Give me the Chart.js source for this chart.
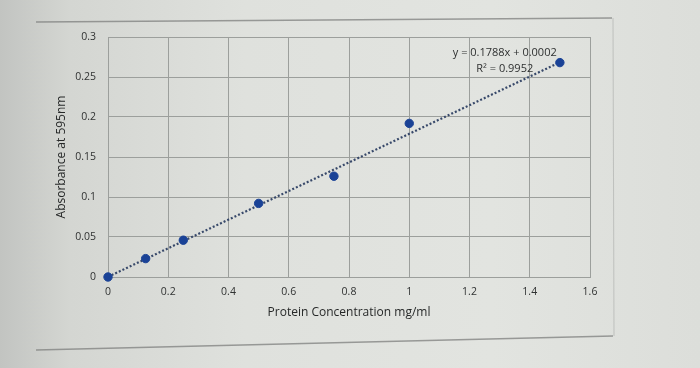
<!DOCTYPE html>
<html>
<head>
<meta charset="utf-8">
<script src="https://cdn.jsdelivr.net/npm/chart.js@4.4.1/dist/chart.umd.min.js"></script>
<style>
  html, body { margin: 0; padding: 0; }
  body {
    width: 700px; height: 368px; overflow: hidden;
    background: linear-gradient(90deg, #c2c4c1 0%, #d4d6d2 10%, #dfe1dd 35%, #e2e4e0 70%, #dcdeda 100%);
  }
  #wrap { position: relative; width: 700px; height: 368px; }
</style>
</head>
<body>
<div id="wrap"><canvas id="c" width="700" height="368"></canvas></div>
<script>
// Data
const concentrations = [0, 0.125, 0.25, 0.5, 0.75, 1.0, 1.5];
const absorbances   = [0, 0.023, 0.046, 0.092, 0.126, 0.192, 0.268];
// Linear trendline (from the equation shown in the chart)
const trendX = [0, 1.5];
const trendY = [0.0002, 0.2684];
const equationLines = ['y = 0.1788x + 0.0002', 'R² = 0.9952'];
const xTicks = [0, 0.2, 0.4, 0.6, 0.8, 1, 1.2, 1.4, 1.6];
const yTicks = [0, 0.05, 0.1, 0.15, 0.2, 0.25, 0.3];
const xTitle = 'Protein Concentration mg/ml';
const yTitle = 'Absorbance at 595nm';

const FONT = "'Open Sans', 'Liberation Sans', sans-serif";

const pointData = concentrations.map((x, i) => ({ x, y: absorbances[i] }));
const trendData = trendX.map((x, i) => ({ x, y: trendY[i] }));

const frame = {
  id: 'frame',
  beforeDraw(chart) {
    const ctx = chart.ctx;
    ctx.save();
    ctx.strokeStyle = 'rgba(125,127,125,0.75)';
    ctx.lineWidth = 1.5;
    ctx.beginPath();
    ctx.moveTo(36, 22); ctx.lineTo(612, 18);
    ctx.stroke();
    ctx.beginPath();
    ctx.moveTo(36, 350); ctx.lineTo(613, 336);
    ctx.stroke();
    ctx.strokeStyle = 'rgba(160,162,160,0.5)';
    ctx.lineWidth = 1;
    ctx.beginPath();
    ctx.moveTo(613, 18); ctx.lineTo(614, 336);
    ctx.stroke();
    ctx.restore();
  },
  afterDatasetsDraw(chart) {
    const ctx = chart.ctx;
    const xs = chart.scales.x, ys = chart.scales.y;
    const px = xs.getPixelForValue(1.317);
    ctx.save();
    ctx.font = "11px " + FONT;
    ctx.fillStyle = '#2e3030';
    ctx.textAlign = 'center';
    ctx.textBaseline = 'middle';
    ctx.fillText(equationLines[0], px, ys.getPixelForValue(0.2800));
    ctx.fillText(equationLines[1], px, ys.getPixelForValue(0.2605));
    ctx.restore();
  }
};

new Chart(document.getElementById('c'), {
  type: 'scatter',
  data: {
    datasets: [
      {
        label: 'Trend',
        data: trendData,
        showLine: true,
        borderColor: '#38496a',
        borderWidth: 2.2,
        borderDash: [2, 2],
        pointRadius: 0,
        fill: false,
        clip: false,
        order: 2
      },
      {
        label: 'Absorbance',
        data: pointData,
        pointRadius: 4.2,
        pointBackgroundColor: '#1a4296',
        pointBorderColor: '#1a4296',
        clip: false,
        order: 1
      }
    ]
  },
  plugins: [frame],
  options: {
    responsive: false,
    animation: false,
    devicePixelRatio: 1,
    layout: { padding: { left: 48, top: 37, right: 110, bottom: 46 } },
    plugins: { legend: { display: false }, tooltip: { enabled: false } },
    scales: {
      x: {
        type: 'linear',
        min: 0, max: 1.6,
        afterBuildTicks(s) { s.ticks = xTicks.map(v => ({ value: v })); },
        afterFit(s) { s.height = 45; },
        grid: { color: '#9c9f9c', lineWidth: 1, drawTicks: false },
        border: { display: true, color: '#9c9f9c' },
        ticks: {
          padding: 9,
          color: '#303232',
          font: { family: FONT, size: 10.5 },
          callback: v => String(v)
        },
        title: {
          display: true, text: xTitle, color: '#262828',
          font: { family: FONT, size: 12 }, padding: 2
        }
      },
      y: {
        type: 'linear',
        min: 0, max: 0.3,
        afterBuildTicks(s) { s.ticks = yTicks.map(v => ({ value: v })); },
        afterFit(s) { s.width = 60; },
        grid: { color: '#9c9f9c', lineWidth: 1, drawTicks: false },
        border: { display: true, color: '#9c9f9c' },
        ticks: {
          padding: 12,
          color: '#303232',
          font: { family: FONT, size: 10.5 },
          callback: v => String(v)
        },
        title: {
          display: true, text: yTitle, color: '#262828',
          font: { family: FONT, size: 12 }, padding: 6
        }
      }
    }
  }
});
</script>
</body>
</html>
